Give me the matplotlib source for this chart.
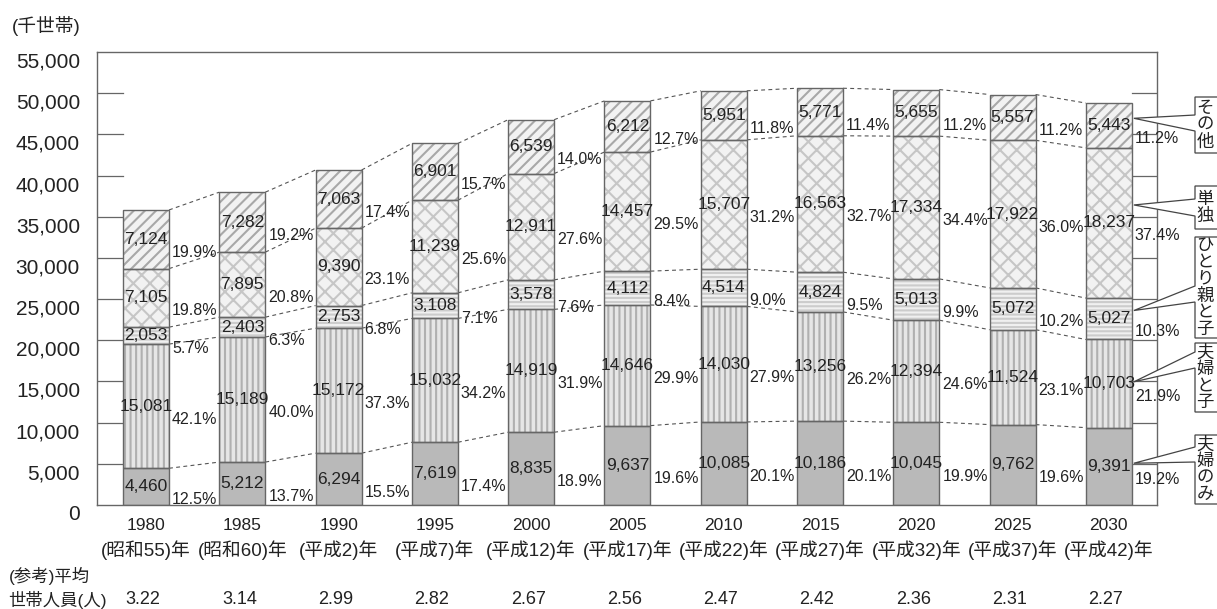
import numpy as np
import matplotlib
matplotlib.use("Agg")
import matplotlib.pyplot as plt
from matplotlib.patches import Polygon

plt.rcParams['font.family'] = ['Liberation Sans', 'Noto Sans CJK JP']
plt.rcParams['hatch.linewidth'] = 1.5

# data
years = [1980, 1985, 1990, 1995, 2000, 2005, 2010, 2015, 2020, 2025, 2030]
eras = ['昭和55', '昭和60', '平成2', '平成7', '平成12', '平成17',
        '平成22', '平成27', '平成32', '平成37', '平成42']
fufu_only = [4460, 5212, 6294, 7619, 8835, 9637, 10085, 10186, 10045, 9762, 9391]
fufu_ko = [15081, 15189, 15172, 15032, 14919, 14646, 14030, 13256, 12394, 11524, 10703]
hitorioya = [2053, 2403, 2753, 3108, 3578, 4112, 4514, 4824, 5013, 5072, 5027]
tandoku = [7105, 7895, 9390, 11239, 12911, 14457, 15707, 16563, 17334, 17922, 18237]
sonota = [7124, 7282, 7063, 6901, 6539, 6212, 5951, 5771, 5655, 5557, 5443]

fufu_only_pct = [12.5, 13.7, 15.5, 17.4, 18.9, 19.6, 20.1, 20.1, 19.9, 19.6, 19.2]
fufu_ko_pct = [42.1, 40.0, 37.3, 34.2, 31.9, 29.9, 27.9, 26.2, 24.6, 23.1, 21.9]
hitorioya_pct = [5.7, 6.3, 6.8, 7.1, 7.6, 8.4, 9.0, 9.5, 9.9, 10.2, 10.3]
tandoku_pct = [19.8, 20.8, 23.1, 25.6, 27.6, 29.5, 31.2, 32.7, 34.4, 36.0, 37.4]
sonota_pct = [19.9, 19.2, 17.4, 15.7, 14.0, 12.7, 11.8, 11.4, 11.2, 11.2, 11.2]

members = [3.22, 3.14, 2.99, 2.82, 2.67, 2.56, 2.47, 2.42, 2.36, 2.31, 2.27]

categories = ['夫婦のみ', '夫婦と子', 'ひとり親と子', '単独', 'その他']
values = [fufu_only, fufu_ko, hitorioya, tandoku, sonota]
pcts = [fufu_only_pct, fufu_ko_pct, hitorioya_pct, tandoku_pct, sonota_pct]

# (face, hatch, hatch color)
styles = [
    ('#b9b9b9', None, '#b9b9b9'),
    ('#e6e6e6', '|||', '#b0b0b0'),
    ('#f0f0f0', '----', '#cccccc'),
    ('#f2f2f2', 'xx', '#c6c6c6'),
    ('#f2f2f2', '///', '#a8a8a8'),
]
# where the callout tail hits each segment (fraction of height)
tail_frac = [0.54, 0.52, 0.7, 0.62, 0.66]

W, H = 1217, 609
txt = '#222222'
line_c = '#666666'

fig = plt.figure(figsize=(W / 100, H / 100), dpi=100)
ax = fig.add_axes([97 / W, 1 - 505 / H, (1157 - 97) / W, (505 - 52) / H])

x = np.arange(len(years))
w = 0.478
x_left, x_right = -0.509, 10.5
ax.set_xlim(x_left, x_right)
ax.set_ylim(0, 55000)

bottom = np.zeros(len(years))
levels = []
for vals, (face, hatch, hc) in zip(values, styles):
    vals = np.array(vals, dtype=float)
    ax.bar(x, vals, w, bottom=bottom, color=face, hatch=hatch,
           edgecolor=hc, linewidth=0, zorder=2)
    ax.bar(x, vals, w, bottom=bottom, fill=False, edgecolor=line_c,
           linewidth=1, zorder=3)
    levels.append((bottom.copy(), bottom + vals))
    bottom = bottom + vals

# dashed connectors between bars
for lo, hi in levels:
    for i in range(len(x) - 1):
        ax.plot([x[i] + w / 2, x[i + 1] - w / 2], [hi[i], hi[i + 1]],
                ls=(0, (3.5, 3)), color='#555555', lw=0.8, zorder=1)

# short grid segments at both ends
for v in range(5000, 55000, 5000):
    ax.plot([x_left, x[0] - w / 2], [v, v], color=line_c, lw=0.9, zorder=1)
    ax.plot([x[-1] + w / 2, x_right], [v, v], color=line_c, lw=0.9, zorder=1)

for s in ax.spines.values():
    s.set_color(line_c)
    s.set_linewidth(1)
ax.set_xticks([])
ax.set_yticks([])

# y labels (sit a bit below their line)
for v in range(0, 55001, 5000):
    ax.annotate(f'{v:,}', xy=(0, v), xycoords=('axes fraction', 'data'),
                xytext=(-17, -10), textcoords='offset pixels',
                ha='right', va='center', fontsize=15, color=txt)

# value and share labels
for (lo, hi), vals, pc in zip(levels, values, pcts):
    for i in range(len(x)):
        mid = (lo[i] + hi[i]) / 2
        ax.text(x[i], mid, f'{vals[i]:,}', ha='center', va='center',
                fontsize=12.5, color=txt, zorder=4)
        ax.annotate(f'{pc[i]:.1f}%', xy=(x[i] + w / 2, mid),
                    xytext=(3, -13), textcoords='offset pixels',
                    ha='left', va='center', fontsize=11.5, color=txt,
                    zorder=4, annotation_clip=False)

# x labels
for i in range(len(x)):
    ax.annotate(str(years[i]), xy=(x[i], 0), xytext=(0, -20),
                textcoords='offset pixels', ha='center', va='center',
                fontsize=12.5, color=txt, annotation_clip=False)
    ax.annotate(f'({eras[i]})年', xy=(x[i], 0), xytext=(0, -45),
                textcoords='offset pixels', ha='center', va='center',
                fontsize=13.5, color=txt, annotation_clip=False)
    ax.annotate(f'{members[i]:.2f}', xy=(x[i], 0), xytext=(-3, -95),
                textcoords='offset pixels', ha='center', va='center',
                fontsize=13, color=txt, annotation_clip=False)

fig.text(12 / W, 1 - 26 / H, '(千世帯)', ha='left', va='center',
         fontsize=13.5, color=txt)
fig.text(9 / W, 1 - 576 / H, '(参考)平均', ha='left', va='center',
         fontsize=12.5, color=txt)
fig.text(8 / W, 1 - 600 / H, '世帯人員(人)', ha='left', va='center',
         fontsize=12.5, color=txt)

# callout boxes on the right, in pixel coordinates
lax = fig.add_axes([0, 0, 1, 1], zorder=5)
lax.set_xlim(0, W)
lax.set_ylim(H, 0)
lax.axis('off')
lax.patch.set_alpha(0)

boxes = {
    'その他': (97, 153, 115, 131),
    '単独': (186, 229, 199, 216),
    'ひとり親と子': (237, 338, 286, 302),
    '夫婦と子': (343, 412, 352, 368),
    '夫婦のみ': (435, 504, 447, 462),
}
bx = 1195
step = 16.7
for k, cat in enumerate(categories):
    top, bot, a1, a2 = boxes[cat]
    lo, hi = levels[k]
    ty = lo[-1] + tail_frac[k] * (hi[-1] - lo[-1])
    px, py = ax.transData.transform((x[-1] + w / 2, ty))
    tip = (px + 2, H - py)
    pts = [(W + 10, top), (bx, top), (bx, a1), tip, (bx, a2),
           (bx, bot), (W + 10, bot)]
    lax.add_patch(Polygon(pts, closed=False, facecolor='white',
                          edgecolor='#444444', lw=0.9))
    c0 = (top + bot) / 2 - step * (len(cat) - 1) / 2
    for j, ch in enumerate(cat):
        lax.text(1205, c0 + j * step, ch, ha='center', va='center',
                 fontsize=12.5, color=txt)

fig.savefig('out.png', dpi=100)
